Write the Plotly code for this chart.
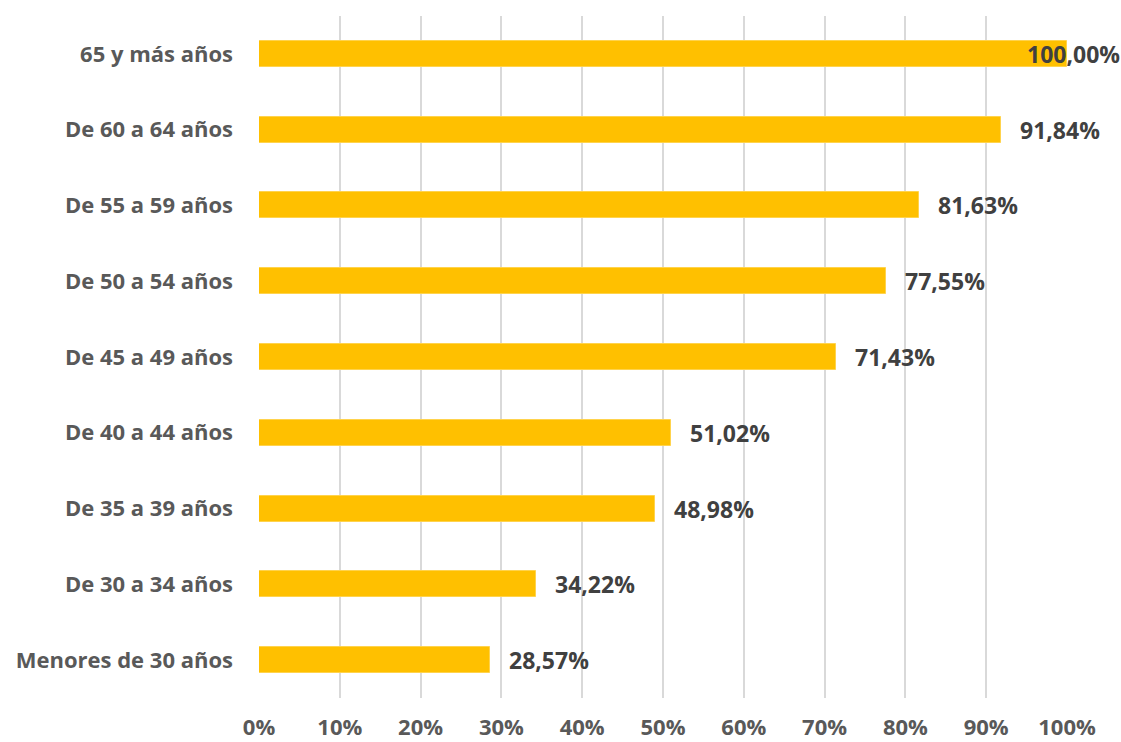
import plotly.graph_objects as go

categories = ["65 y más años", "De 60 a 64 años", "De 55 a 59 años", "De 50 a 54 años",
              "De 45 a 49 años", "De 40 a 44 años", "De 35 a 39 años", "De 30 a 34 años",
              "Menores de 30 años"]
values = [100.00, 91.84, 81.63, 77.55, 71.43, 51.02, 48.98, 34.22, 28.57]
labels = ["100,00%", "91,84%", "81,63%", "77,55%", "71,43%", "51,02%", "48,98%", "34,22%", "28,57%"]
tick_vals = [0, 10, 20, 30, 40, 50, 60, 70, 80, 90, 100]
tick_text = ["0%", "10%", "20%", "30%", "40%", "50%", "60%", "70%", "80%", "90%", "100%"]

FONT = "Open Sans"

fig = go.Figure()
fig.add_trace(go.Bar(
    y=categories, x=values, orientation="h",
    marker=dict(color="#FFC000", line=dict(color="#FFD34D", width=1)),
    width=0.343, hoverinfo="skip",
))

for cat, v, lab in zip(categories, values, labels):
    shift = -42 if v >= 100 else 17
    fig.add_annotation(x=v, y=cat, text=lab, showarrow=False, xanchor="left",
                       xshift=shift, font=dict(family=FONT, size=23, color="#404040", weight="bold"))

fig.update_layout(
    width=1121, height=742,
    margin=dict(l=259, r=54, t=16, b=44, autoexpand=False),
    plot_bgcolor="white", paper_bgcolor="white",
    showlegend=False, bargap=0,
    font=dict(family=FONT, size=22, color="#595959", weight="bold"),
)
fig.update_xaxes(range=[0, 100], tickvals=tick_vals, ticktext=tick_text,
                 showgrid=True, gridcolor="#D9D9D9", gridwidth=2, zeroline=False,
                 showline=False, ticks="", ticklabelstandoff=14,
                 tickfont=dict(family=FONT, size=22, color="#595959", weight="bold"))
fig.update_yaxes(autorange="reversed", showgrid=False, zeroline=False, showline=False,
                 ticks="", ticklabelstandoff=25,
                 tickfont=dict(family=FONT, size=22, color="#595959", weight="bold"))

fig.write_html("out.html")
